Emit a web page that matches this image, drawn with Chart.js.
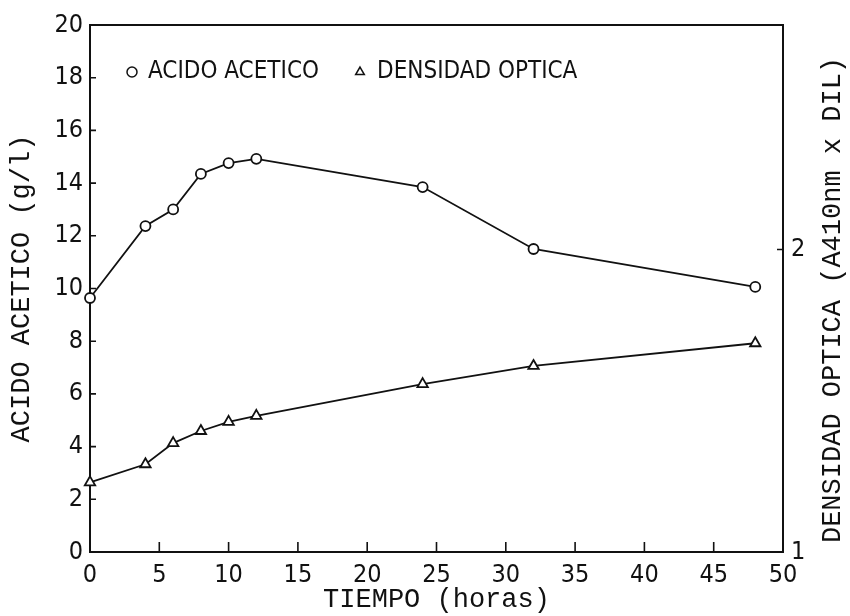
<!DOCTYPE html>
<html>
<head>
<meta charset="utf-8">
<script src="https://cdn.jsdelivr.net/npm/chart.js@4.4.0/dist/chart.umd.min.js"></script>
<style>
  html, body { margin: 0; background: #fff; }
  #wrap { width: 850px; height: 616px; }
</style>
</head>
<body>
<div id="wrap"><canvas id="chart" width="850" height="616"></canvas></div>
<script>
// data
const horas          = [0, 4, 6, 8, 10, 12, 24, 32, 48];
const acidoAcetico   = [9.64, 12.37, 13.0, 14.35, 14.76, 14.92, 13.85, 11.5, 10.06]; // g/l, left axis
const densidadOptica = [1.23, 1.29, 1.36, 1.40, 1.43, 1.45, 1.555, 1.615, 1.69];      // right axis
const rightTicks     = [1, 2];
const legendLabels   = ['ACIDO ACETICO', 'DENSIDAD OPTICA'];

const INK = '#111';
const narrow = "'Liberation Sans Narrow','DejaVu Sans Condensed','Roboto Condensed',sans-serif";
const mono   = "'Liberation Mono','DejaVu Sans Mono',monospace";

const toXY = (ys) => horas.map((h, i) => ({ x: h, y: ys[i] }));

// frame, inward tick marks, legend and right-hand title
const decor = {
  id: 'decor',
  beforeDatasetsDraw(chart) {
    const { ctx, chartArea: a, scales } = chart;
    ctx.save();
    ctx.strokeStyle = INK;
    ctx.lineWidth = 2;
    ctx.strokeRect(a.left, a.top, a.right - a.left, a.bottom - a.top);
    ctx.lineWidth = 1.6;
    ctx.beginPath();
    scales.x.ticks.forEach(t => {
      const px = scales.x.getPixelForValue(t.value);
      ctx.moveTo(px, a.bottom); ctx.lineTo(px, a.bottom - 10);
    });
    scales.y.ticks.forEach(t => {
      const py = scales.y.getPixelForValue(t.value);
      ctx.moveTo(a.left, py); ctx.lineTo(a.left + 6, py);
    });
    scales.y2.ticks.forEach(t => {
      const py = scales.y2.getPixelForValue(t.value);
      ctx.moveTo(a.right, py); ctx.lineTo(a.right - 6, py);
    });
    ctx.stroke();
    ctx.restore();
  },
  afterDraw(chart) {
    const { ctx } = chart;
    ctx.save();
    ctx.strokeStyle = INK;
    ctx.fillStyle = '#fff';
    ctx.lineWidth = 1.5;
    Chart.helpers.drawPoint(ctx, { pointStyle: 'circle', radius: 5, borderWidth: 1.5, rotation: 0 }, 132, 72);
    Chart.helpers.drawPoint(ctx, { pointStyle: 'triangle', radius: 5, borderWidth: 1.5, rotation: 0 }, 360, 72);
    ctx.fillStyle = INK;
    ctx.font = '24px ' + narrow;
    ctx.textBaseline = 'middle';
    ctx.textAlign = 'left';
    ctx.fillText(legendLabels[0], 148, 72);
    ctx.fillText(legendLabels[1], 377, 72);

    ctx.translate(833, 300);
    ctx.rotate(-Math.PI / 2);
    ctx.textAlign = 'center';
    ctx.font = '27px ' + mono;
    ctx.fillText('DENSIDAD OPTICA (A410nm x DIL)', 0, 0);
    ctx.restore();
  }
};

const tickFont = { family: narrow, size: 25 };

new Chart(document.getElementById('chart'), {
  type: 'line',
  data: {
    datasets: [
      {
        label: legendLabels[0],
        data: toXY(acidoAcetico),
        yAxisID: 'y',
        borderColor: INK, borderWidth: 1.8,
        pointStyle: 'circle', pointRadius: 5,
        pointBackgroundColor: '#fff', pointBorderColor: INK, pointBorderWidth: 1.8,
        tension: 0, clip: false
      },
      {
        label: legendLabels[1],
        data: toXY(densidadOptica),
        yAxisID: 'y2',
        borderColor: INK, borderWidth: 1.8,
        pointStyle: 'triangle', pointRadius: 6,
        pointBackgroundColor: '#fff', pointBorderColor: INK, pointBorderWidth: 1.8,
        tension: 0, clip: false
      }
    ]
  },
  options: {
    responsive: false,
    animation: false,
    layout: { padding: { top: 25, left: 0, right: 0, bottom: 0 } },
    plugins: { legend: { display: false }, tooltip: { enabled: false } },
    scales: {
      x: {
        type: 'linear', min: 0, max: 50,
        ticks: { stepSize: 5, color: INK, font: tickFont, padding: 8, maxRotation: 0 },
        grid: { display: false, drawTicks: false, tickLength: 0 },
        border: { display: false },
        title: { display: true, text: 'TIEMPO (horas)', color: INK, font: { family: mono, size: 27 }, padding: { top: 0, bottom: 0 } },
        afterFit(s) { s.height = 64; }
      },
      y: {
        position: 'left', min: 0, max: 20,
        ticks: { stepSize: 2, color: INK, font: tickFont, padding: 7 },
        grid: { display: false, drawTicks: false, tickLength: 0 },
        border: { display: false },
        title: { display: true, text: 'ACIDO ACETICO (g/l)', color: INK, font: { family: mono, size: 27 }, padding: { top: 6, bottom: 0 } },
        afterFit(s) { s.width = 90; }
      },
      y2: {
        position: 'right', min: 1, max: 2.742,
        afterBuildTicks(s) { s.ticks = rightTicks.map(v => ({ value: v })); },
        ticks: { color: INK, font: tickFont, padding: 8 },
        grid: { display: false, drawTicks: false, tickLength: 0 },
        border: { display: false },
        afterFit(s) { s.width = 67; }
      }
    }
  },
  plugins: [decor]
});
</script>
</body>
</html>
